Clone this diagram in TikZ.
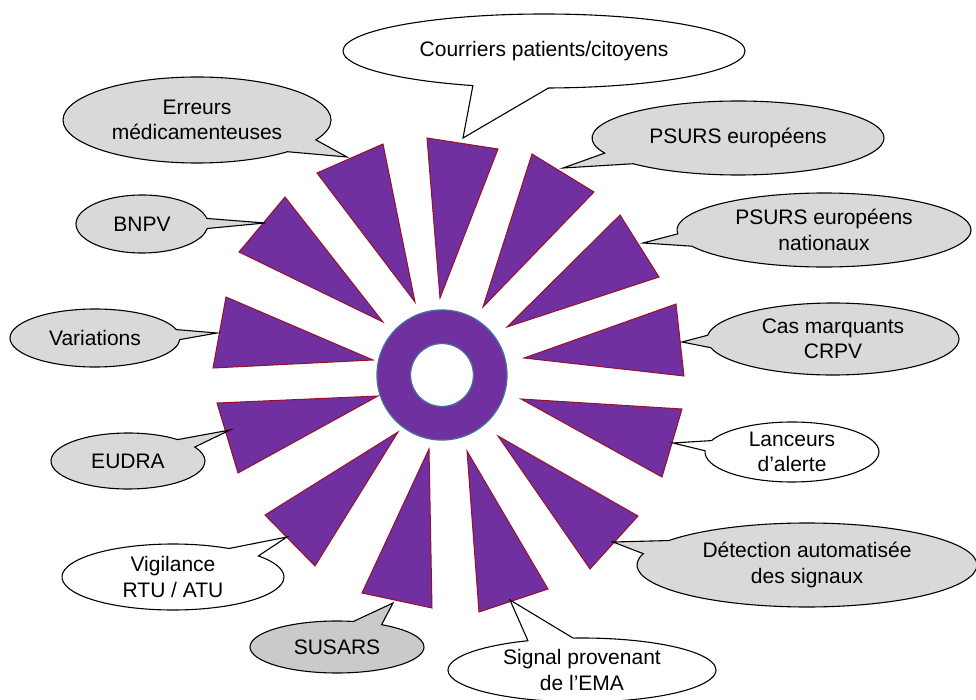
\documentclass[tikz,border=0pt]{standalone}
\usepackage{fontspec}
\setmainfont{Liberation Sans}
\usetikzlibrary{shapes.callouts}
\definecolor{vpurple}{HTML}{7030A0}
\definecolor{tridark}{HTML}{9A1028}
\definecolor{ringblue}{HTML}{41719C}
\definecolor{calgray}{HTML}{D9D9D9}
\definecolor{calgraydk}{HTML}{CACACA}
\tikzset{
  callw/.style={ellipse callout, draw=black, line width=1.1pt, fill=white, align=center,
    inner sep=0pt, text=black, font=\fontsize{21}{25.5}\selectfont, callout pointer arc=20},
  callg/.style={callw, fill=calgray},
  callgd/.style={callw, fill=calgraydk},
  tri/.style={fill=vpurple, draw=tridark, line width=1pt, line join=miter},
}
\begin{document}
\begin{tikzpicture}[x=1pt, y=-1pt]
\useasboundingbox (0,0) rectangle (976,700);
% triangles
\draw[tri] (427,138) -- (498,149) -- (440,298) -- cycle;
\draw[tri] (532,154) -- (594,192) -- (483,307) -- cycle;
\draw[tri] (620,215) -- (659,277) -- (507,327) -- cycle;
\draw[tri] (676,304) -- (684,376) -- (524,358) -- cycle;
\draw[tri] (682,409) -- (662,477) -- (521,399) -- cycle;
\draw[tri] (638,516) -- (590,569) -- (498,436) -- cycle;
\draw[tri] (548,589) -- (479,612) -- (467,451) -- cycle;
\draw[tri] (432,608) -- (362,593) -- (429,449) -- cycle;
\draw[tri] (315,566) -- (265,515) -- (398,432) -- cycle;
\draw[tri] (238,473) -- (217,403) -- (378,396) -- cycle;
\draw[tri] (213,368) -- (226,297) -- (373,360) -- cycle;
\draw[tri] (239,252) -- (285,197) -- (383,322) -- cycle;
\draw[tri] (317,173) -- (383,144) -- (415,302) -- cycle;
% ring
\coordinate (ctr) at (442,375);
\fill[vpurple, even odd rule] (ctr) circle[radius=65] (ctr) circle[radius=31.5];
\draw[ringblue, line width=1.3pt] (ctr) circle[radius=65];
\draw[ringblue, line width=1.3pt] (ctr) circle[radius=31.5];
% pointer tips
\coordinate (p1) at (463,138);
\coordinate (p2) at (563,168);
\coordinate (p3) at (643,243);
\coordinate (p4) at (682,342);
\coordinate (p5) at (673,443);
\coordinate (p6) at (613,542);
\coordinate (p7) at (510,600);
\coordinate (p8) at (393,603);
\coordinate (p9) at (287,537);
\coordinate (p10) at (230,430);
\coordinate (p11) at (217,333);
\coordinate (p12) at (265,223);
\coordinate (p13) at (347,157);
% callouts
\node[callw, minimum width=402, minimum height=74, callout absolute pointer={(p1)}, callout pointer arc=22] (c1) at (544,51) {Courriers patients/citoyens};
\node[callg, minimum width=292, minimum height=74, callout absolute pointer={(p2)}] (c2) at (738,138) {PSURS européens};
\node[callg, minimum width=294, minimum height=74, callout absolute pointer={(p3)}] (c3) at (824,230) {PSURS européens\\nationaux};
\node[callg, minimum width=252, minimum height=72, callout absolute pointer={(p4)}] (c4) at (833,339) {Cas marquants\\CRPV};
\node[callw, minimum width=174, minimum height=60, callout absolute pointer={(p5)}] (c5) at (792,452) {Lanceurs\\d’alerte};
\node[callg, minimum width=340, minimum height=84, callout absolute pointer={(p6)}] (c6) at (807,565) {Détection automatisée\\des signaux};
\node[callw, minimum width=268, minimum height=64, callout absolute pointer={(p7)}] (c7) at (582,670) {Signal provenant\\de l’EMA};
\node[callgd, minimum width=174, minimum height=52, callout absolute pointer={(p8)}] (c8) at (337,647) {SUSARS};
\node[callw, minimum width=222, minimum height=66, callout absolute pointer={(p9)}] (c9) at (173,577) {Vigilance\\RTU / ATU};
\node[callg, minimum width=154, minimum height=56, callout absolute pointer={(p10)}] (c10) at (128,461) {EUDRA};
\node[callg, minimum width=170, minimum height=58, callout absolute pointer={(p11)}] (c11) at (95,338) {Variations};
\node[callg, minimum width=132, minimum height=58, callout absolute pointer={(p12)}] (c12) at (142,224) {BNPV};
\node[callg, minimum width=268, minimum height=86, callout absolute pointer={(p13)}] (c13) at (197,120) {Erreurs\\médicamenteuses};
\end{tikzpicture}
\end{document}
